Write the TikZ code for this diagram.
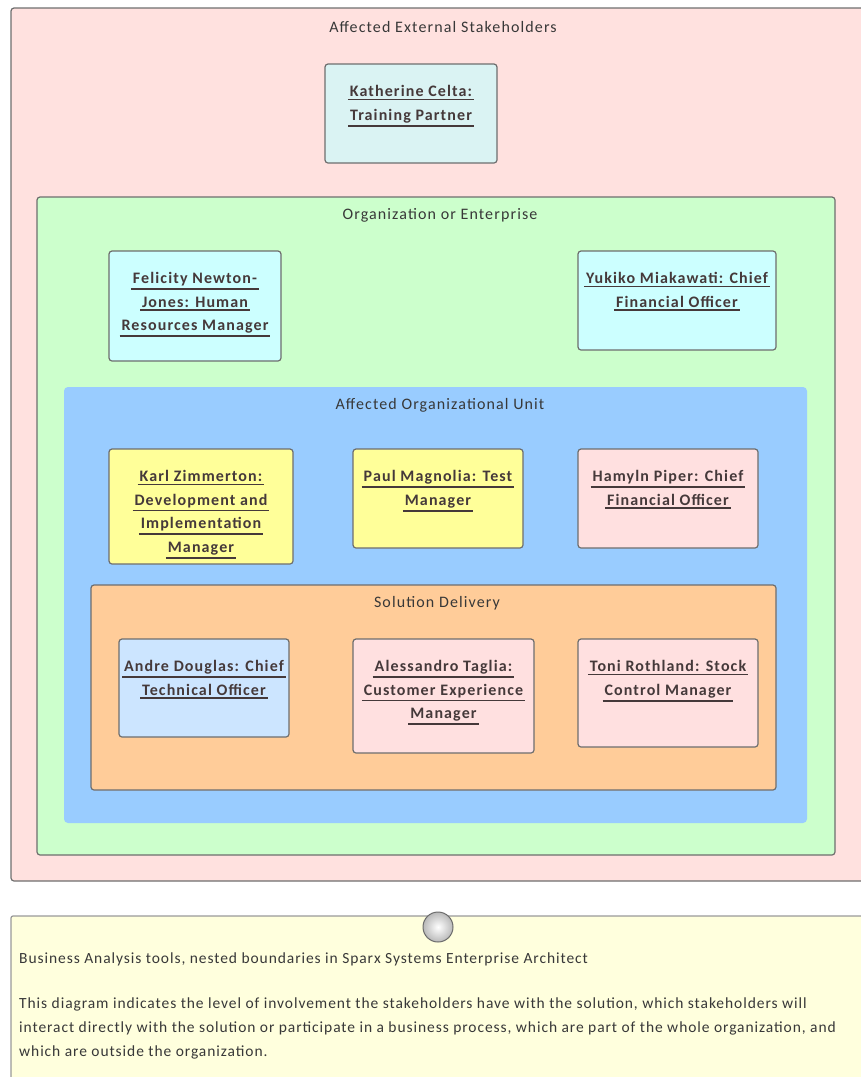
\documentclass[tikz,border=0pt]{standalone}
\usepackage{fontspec}
\setmainfont{Carlito}[LetterSpace=7]
\newfontfamily\notefont{Carlito}[LetterSpace=6]
\usetikzlibrary{positioning}

\definecolor{extpink}{HTML}{FFE1DF}
\definecolor{orggreen}{HTML}{CCFFCC}
\definecolor{unitblue}{HTML}{99CCFF}
\definecolor{delorange}{HTML}{FFCC99}
\definecolor{paleteal}{HTML}{DAF3F3}
\definecolor{palecyan}{HTML}{CCFFFF}
\definecolor{paleyellow}{HTML}{FFFF99}
\definecolor{palepink}{HTML}{FFE0E0}
\definecolor{paleblue}{HTML}{CCE5FF}
\definecolor{notecream}{HTML}{FFFFDD}
\definecolor{edgegray}{HTML}{6E6E6E}
\definecolor{titlegray}{HTML}{383838}
\definecolor{namebrown}{HTML}{45393A}

% one underlined line of a stakeholder name
\newcommand{\uln}[1]{\vtop{\hbox{\kern2pt#1\kern2pt}\kern1.8pt\hrule height 1.7pt}}

\tikzset{
  bound/.style={draw=edgegray,line width=1.2pt,rounded corners=3pt,fill=#1},
  boundtitle/.style={font=\fontsize{16}{18}\selectfont,text=titlegray,inner sep=0pt},
  actor/.style={draw=edgegray,line width=1.2pt,rounded corners=3pt,fill=#1,inner sep=0pt},
  actortext/.style={align=center,font=\bfseries\fontsize{16}{23.5}\selectfont,text=namebrown,inner sep=0pt},
  notetext/.style={align=left,anchor=west,font=\notefont\fontsize{15.5}{24}\selectfont,text=titlegray,inner sep=0pt}
}

\begin{document}
\begin{tikzpicture}[x=1pt,y=-1pt]
   \useasboundingbox (0,0) rectangle (861,1077) ;
   %\draw[very thin,gray,step=50] (0,0) grid (861,1077) ;
   % nested boundaries
   \draw[bound=extpink] (11,8) rectangle (880,881) ;
   \node[boundtitle] (exttitle) at (443,27) {Affected External Stakeholders} ;
   \draw[bound=orggreen] (37,197) rectangle (835,855) ;
   \node[boundtitle] (orgtitle) at (440,215) {Organization or Enterprise} ;
   \fill[unitblue,rounded corners=4pt] (64,387) rectangle (807,823) ;
   \node[boundtitle] (unittitle) at (440,405) {Affected Organizational Unit} ;
   \draw[bound=delorange] (91,585) rectangle (776,790) ;
   \node[boundtitle] (deltitle) at (437,603) {Solution Delivery} ;

   % stakeholders
   \node[actor=paleteal,minimum width=172pt,minimum height=99pt] (celta) at (411,113.5) {} ;
   \node[actortext,below=22pt of celta.north] (celtatext) {\uln{Katherine Celta:}\\\uln{Training Partner}} ;
   \node[actor=palecyan,minimum width=172pt,minimum height=110pt] (newton) at (195,306) {} ;
   \node[actortext,below=22pt of newton.north] (newtontext) {\uln{Felicity Newton-}\\\uln{Jones: Human}\\\uln{Resources Manager}} ;
   \node[actor=palecyan,minimum width=198pt,minimum height=99pt] (miakawati) at (677,300.5) {} ;
   \node[actortext,below=22pt of miakawati.north] (miakawatitext) {\uln{Yukiko Miakawati: Chief}\\\uln{Financial Officer}} ;

   \node[actor=paleyellow,minimum width=184pt,minimum height=115pt] (zimmerton) at (201,506.5) {} ;
   \node[actortext,below=22pt of zimmerton.north] (zimmertontext) {\uln{Karl Zimmerton:}\\\uln{Development and}\\\uln{Implementation}\\\uln{Manager}} ;
   \node[actor=paleyellow,minimum width=170pt,minimum height=99pt] (magnolia) at (438,498.5) {} ;
   \node[actortext,below=22pt of magnolia.north] (magnoliatext) {\uln{Paul Magnolia: Test}\\\uln{Manager}} ;
   \node[actor=palepink,minimum width=180pt,minimum height=99pt] (piper) at (668,498.5) {} ;
   \node[actortext,below=22pt of piper.north] (pipertext) {\uln{Hamyln Piper: Chief}\\\uln{Financial Officer}} ;

   \node[actor=paleblue,minimum width=170pt,minimum height=98pt] (douglas) at (204,688) {} ;
   \node[actortext,below=22pt of douglas.north] (douglastext) {\uln{Andre Douglas: Chief}\\\uln{Technical Officer}} ;
   \node[actor=palepink,minimum width=181pt,minimum height=114pt] (taglia) at (443.5,696) {} ;
   \node[actortext,below=22pt of taglia.north] (tagliatext) {\uln{Alessandro Taglia:}\\\uln{Customer Experience}\\\uln{Manager}} ;
   \node[actor=palepink,minimum width=180pt,minimum height=108pt] (rothland) at (668,693) {} ;
   \node[actortext,below=22pt of rothland.north] (rothlandtext) {\uln{Toni Rothland: Stock}\\\uln{Control Manager}} ;

   % note
   \draw[fill=notecream,draw=edgegray!70,line width=1.2pt,rounded corners=2pt] (11,916) rectangle (880,1100) ;
   \shade[inner color=white,outer color=gray!55,draw=gray!85!black,line width=1pt] (438,927) circle (15) ;
   \node[notetext] (notehead) at (19,959) {Business Analysis tools, nested boundaries in Sparx Systems Enterprise Architect} ;
   \node[notetext,anchor=north west] (notebody) at (19,998) {This diagram indicates the level of involvement the stakeholders have with the solution, which stakeholders will\\interact directly with the solution or participate in a business process, which are part of the whole organization, and\\which are outside the organization.} ;
\end{tikzpicture}
\end{document}
